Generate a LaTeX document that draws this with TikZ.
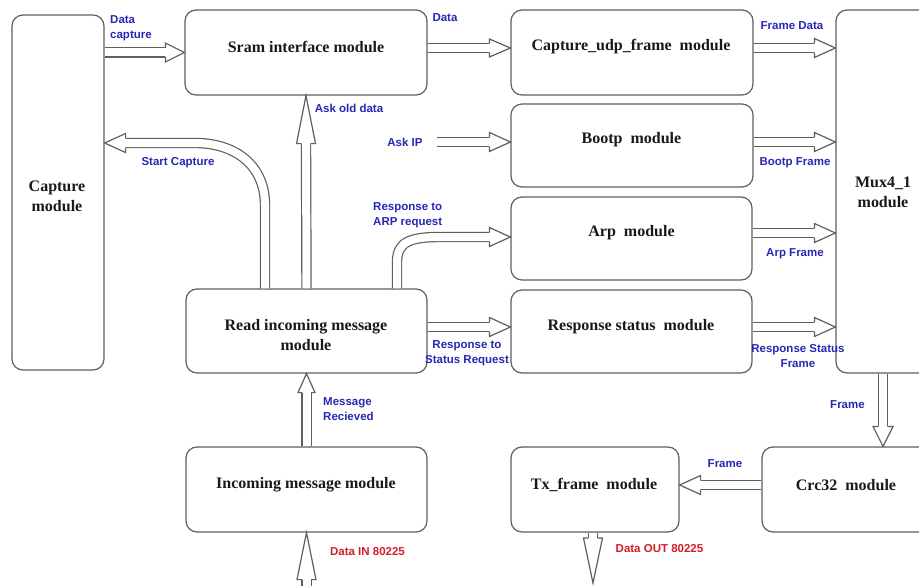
\documentclass[tikz,border=0pt]{standalone}
\usepackage{fontspec}
\setmainfont{Liberation Serif}
\newfontfamily\lblfont{Liberation Sans}
\usetikzlibrary{calc}
\definecolor{lgray}{RGB}{95,95,95}
\definecolor{lblue}{RGB}{40,40,180}
\definecolor{lred}{RGB}{210,30,40}
\tikzset{
  box/.style={draw=lgray, line width=1.2pt, rounded corners=11pt, inner sep=0pt},
  boxtext/.style={font=\bfseries\fontsize{16}{20}\selectfont, align=center, inner sep=0pt, text=black!90},
  lbl/.style={font=\lblfont\bfseries\fontsize{11.5}{15}\selectfont, text=lblue, inner sep=0pt},
  rlbl/.style={lbl, text=lred},
  shaft/.style={draw=lgray, line width=1.2pt, double=white, double distance=8pt},
  arrline/.style={draw=lgray, line width=1.2pt, line join=miter},
  pics/ahead/.style 2 args={code={
    \fill[white] (-#1,4.6) -- (-#1,#2) -- (0,0) -- (-#1,-#2) -- (-#1,-4.6) -- cycle;
    \draw[arrline] (-#1,4.6) -- (-#1,#2) -- (0,0) -- (-#1,-#2) -- (-#1,-4.6);
  }}
}
\begin{document}
\begin{tikzpicture}[x=1pt,y=-1pt]
\useasboundingbox (0,0) rectangle (919,586);
\fill[white] (0,0) rectangle (919,586);

% boxes
\node[box, minimum width=92pt, minimum height=355pt] (cap) at (58,192.5) {};
\node[box, minimum width=242pt, minimum height=85pt] (sram) at (306,52.5) {};
\node[box, minimum width=242pt, minimum height=85pt] (udp) at (632,52.5) {};
\node[box, minimum width=242pt, minimum height=83pt] (bootp) at (632,145.5) {};
\node[box, minimum width=241pt, minimum height=83pt] (arp) at (631.5,238.5) {};
\node[box, minimum width=241pt, minimum height=83pt] (resp) at (631.5,331.5) {};
\node[box, minimum width=94pt, minimum height=363pt] (mux) at (883,191.5) {};
\node[box, minimum width=241pt, minimum height=84pt] (read) at (306.5,331) {};
\node[box, minimum width=241pt, minimum height=85pt] (inc) at (306.5,489.5) {};
\node[box, minimum width=168pt, minimum height=85pt] (tx) at (595,489.5) {};
\node[box, minimum width=168pt, minimum height=85pt] (crc) at (846,489.5) {};

% box texts
\node[boxtext] (capT) at (57,196) {Capture\\module};
\node[boxtext] (sramT) at (306,47) {Sram interface module};
\node[boxtext] (udpT) at (631,47) {Capture\_udp\_frame\ \ module};
\node[boxtext] (bootpT) at (631.5,140) {Bootp\ \ module};
\node[boxtext] (arpT) at (631.5,233) {Arp\ \ module};
\node[boxtext] (respT) at (631,327) {Response status\ \ module};
\node[boxtext] (muxT) at (883,192) {Mux4\_1\\module};
\node[boxtext] (readT) at (306,335.5) {Read incoming message\\module};
\node[boxtext] (incT) at (306,485) {Incoming message module};
\node[boxtext] (txT) at (594,485) {Tx\_frame\ \ module};
\node[boxtext] (crcT) at (846,485) {Crc32\ \ module};

% tips and free ends
\coordinate (tDC) at (sram.west);
\coordinate (sD) at (sram.east |- 0,48);
\coordinate (tD) at (udp.west |- 0,48);
\coordinate (sFD) at (udp.east |- 0,48);
\coordinate (tFD) at (mux.west |- 0,48);
\coordinate (sIP) at (437,142);
\coordinate (tIP) at (bootp.west |- 0,142);
\coordinate (sBF) at (bootp.east |- 0,142);
\coordinate (tBF) at (mux.west |- 0,142);
\coordinate (sAF) at (arp.east |- 0,233);
\coordinate (tAF) at (mux.west |- 0,233);
\coordinate (sRF) at (resp.east |- 0,327);
\coordinate (tRF) at (mux.west |- 0,327);
\coordinate (sSR) at (read.east |- 0,327);
\coordinate (tSR) at (resp.west |- 0,327);
\coordinate (sARP) at ([xshift=90.5pt]read.north);
\coordinate (tARP) at (arp.west |- 0,237);
\coordinate (sSC) at ([xshift=-41.5pt]read.north);
\coordinate (tSC) at (cap.east |- 0,143);
\coordinate (sDI) at (inc.south |- 0,592);
\coordinate (sDO) at ([xshift=-2pt]tx.south);
\coordinate (tDO) at (sDO |- 0,583);
\coordinate (sFr) at (mux.south);
\coordinate (tFr) at (mux.south |- crc.north);
\coordinate (sF2) at (crc.west |- 0,485);
\coordinate (tF2) at (tx.east |- 0,485);

% arrows
\draw[shaft] (cap.east |- tDC) -- ($(tDC)+(-18,0)$);
\pic at (tDC) {ahead={19}{9.5}};

\draw[shaft] (sD) -- ($(tD)+(-20,0)$);
\pic at (tD) {ahead={21}{9}};

\draw[shaft] (sFD) -- ($(tFD)+(-20,0)$);
\pic at (tFD) {ahead={21}{9.5}};

\draw[shaft] (sIP) -- ($(tIP)+(-20,0)$);
\pic at (tIP) {ahead={21}{9.5}};

\draw[shaft] (sBF) -- ($(tBF)+(-20,0)$);
\pic at (tBF) {ahead={21}{9.5}};

\draw[shaft] (sAF) -- ($(tAF)+(-20,0)$);
\pic at (tAF) {ahead={21}{9.5}};

\draw[shaft] (sRF) -- ($(tRF)+(-20,0)$);
\pic at (tRF) {ahead={21}{9.5}};

\draw[shaft] (sSR) -- ($(tSR)+(-20,0)$);
\pic at (tSR) {ahead={21}{9.5}};

\draw[shaft] (sARP) -- (397,262) .. controls (397,242) and (410,237) .. (440,237) -- ($(tARP)+(-20,0)$);
\pic at (tARP) {ahead={21}{9.5}};

\draw[shaft] (sSC) -- (265,205) .. controls (265,165) and (235,143) .. (195,143) -- ($(tSC)+(20,0)$);
\pic[rotate=180] at (tSC) {ahead={21}{9.5}};

\draw[shaft] (read.north) -- ($(sram.south)+(0,47)$);
\pic[rotate=90] at (sram.south) {ahead={48}{9.5}};

\draw[shaft] (inc.north) -- ($(read.south)+(0,18)$);
\pic[rotate=90] at (read.south) {ahead={19}{8.5}};

\draw[shaft] (sDI) -- ($(inc.south)+(0,46)$);
\pic[rotate=90] at (inc.south) {ahead={47}{9.5}};

\draw[shaft] (sDO) -- ($(tDO)+(0,-44)$);
\pic[rotate=-90] at (tDO) {ahead={45}{9.5}};

\draw[shaft] (sFr) -- ($(tFr)+(0,-19)$);
\pic[rotate=-90] at (tFr) {ahead={20}{10}};

\draw[shaft] (sF2) -- ($(tF2)+(20,0)$);
\pic[rotate=180] at (tF2) {ahead={21}{9.5}};

% labels
\node[lbl, align=left, anchor=west] (lDC) at (110,28.5) {Data\\capture};
\node[lbl] (lD) at (445,18) {Data};
\node[lbl] (lFD) at (792,26) {Frame Data};
\node[lbl] (lAOD) at (349,108) {Ask old data};
\node[lbl] (lAIP) at (405,142) {Ask IP};
\node[lbl] (lBF) at (795,163) {Bootp Frame};
\node[lbl] (lSC) at (178,163) {Start Capture};
\node[lbl, align=left, anchor=west] (lARP) at (373,215.5) {Response to\\ARP request};
\node[lbl, align=center] (lSR) at (467,353.5) {Response to\\Status Request};
\node[lbl] (lAF) at (795,254) {Arp Frame};
\node[lbl, align=center] (lRSF) at (798,356.5) {Response Status\\Frame};
\node[lbl, align=left, anchor=west] (lMR) at (323,409) {Message\\Recieved};
\node[rlbl] (lDI) at (367.5,552) {Data IN 80225};
\node[lbl] (lF1) at (847.5,405) {Frame};
\node[lbl] (lF2) at (725,464) {Frame};
\node[rlbl] (lDO) at (659.5,549) {Data OUT 80225};
\end{tikzpicture}
\end{document}
